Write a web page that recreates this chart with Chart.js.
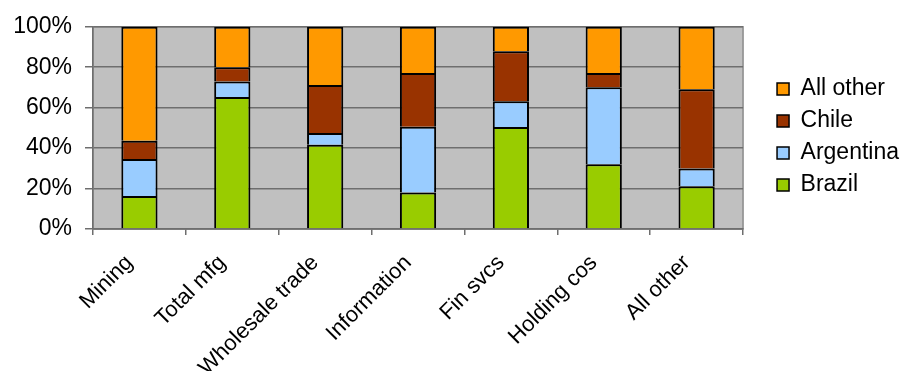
<!DOCTYPE html>
<html>
<head>
<meta charset="utf-8">
<title>Share by sector</title>
<script src="https://cdn.jsdelivr.net/npm/chart.js@4/dist/chart.umd.min.js"></script>
<style>
  html, body { margin: 0; padding: 0; background: #ffffff; }
  #wrap { width: 904px; height: 371px; position: relative; }
</style>
</head>
<body>
<div id="wrap"><canvas id="chart"></canvas></div>
<script>
// Sectors along the horizontal axis
const sectors = ['Mining', 'Total mfg', 'Wholesale trade', 'Information', 'Fin svcs', 'Holding cos', 'All other'];

// Share of each sector (percent), by country
const brazil    = [16.3, 65.3, 41.7, 18.1, 50.5, 32.0, 21.1];
const argentina = [18.3,  7.7,  5.8, 32.5, 12.7, 38.1,  8.8];
const chile     = [ 9.0,  7.0, 23.7, 26.5, 24.7,  7.0, 39.2];
const allOther  = [56.4, 20.0, 28.8, 22.9, 12.1, 22.9, 30.9];

// Value axis ticks
const percentTicks = [0, 20, 40, 60, 80, 100];

const FONT = "'Liberation Sans', Arial, sans-serif";

// Grey plot area with a thin frame, painted under the grid and bars
const plotBackground = {
  id: 'plotBackground',
  beforeDraw(chart) {
    const { ctx, chartArea: a } = chart;
    ctx.save();
    ctx.fillStyle = '#c0c0c0';
    ctx.fillRect(a.left, a.top, a.right - a.left, a.bottom - a.top);
    ctx.strokeStyle = '#8a8a8a';
    ctx.lineWidth = 1.5;
    ctx.strokeRect(a.left, a.top, a.right - a.left, a.bottom - a.top);
    ctx.restore();
  }
};

// Keeps the legend a little apart from the plot area
const legendOffset = {
  id: 'legendOffset',
  afterLayout(chart, args, opts) {
    const lg = chart.legend;
    if (!lg) return;
    lg.left += opts.dx; lg.right += opts.dx;
    lg.top += opts.dy; lg.bottom += opts.dy;
  }
};

const barStyle = {
  borderColor: '#000000',
  borderWidth: 2,
  borderSkipped: 'start',
  barPercentage: 0.39,
  categoryPercentage: 1.0
};

new Chart(document.getElementById('chart'), {
  type: 'bar',
  data: {
    labels: sectors,
    datasets: [
      Object.assign({ label: 'Brazil',    data: brazil,    backgroundColor: '#99cc00' }, barStyle),
      Object.assign({ label: 'Argentina', data: argentina, backgroundColor: '#99ccff' }, barStyle),
      Object.assign({ label: 'Chile',     data: chile,     backgroundColor: '#993300' }, barStyle),
      Object.assign({ label: 'All other', data: allOther,  backgroundColor: '#ff9900' }, barStyle)
    ]
  },
  plugins: [plotBackground, legendOffset],
  options: {
    responsive: true,
    maintainAspectRatio: false,
    animation: false,
    events: [],
    layout: { padding: { top: 25, left: 0, right: 20, bottom: 0 } },
    plugins: {
      title: { display: false },
      tooltip: { enabled: false },
      legendOffset: { dx: 25, dy: 9 },
      legend: {
        position: 'right',
        fullSize: false,
        align: 'center',
        reverse: true,
        labels: {
          color: '#000000',
          font: { family: FONT, size: 23 },
          boxWidth: 12,
          boxHeight: 12,
          padding: 9,
          generateLabels(chart) {
            const items = Chart.defaults.plugins.legend.labels.generateLabels(chart);
            items.forEach(it => { it.lineWidth = 1.5; it.strokeStyle = '#000000'; });
            return items;
          }
        }
      }
    },
    scales: {
      x: {
        stacked: true,
        grid: {
          offset: true,
          drawOnChartArea: false,
          drawTicks: true,
          tickLength: 6,
          color: '#6e6e6e',
          lineWidth: 1.5
        },
        border: { display: true, color: '#6e6e6e', width: 1.5 },
        ticks: {
          color: '#000000',
          font: { family: FONT, size: 22 },
          autoSkip: false,
          minRotation: 45,
          maxRotation: 45,
          padding: 15,
          labelOffset: -10
        },
        afterFit(scale) { scale.height = 142; }
      },
      y: {
        stacked: true,
        min: 0,
        max: 100,
        afterBuildTicks(scale) { scale.ticks = percentTicks.map(v => ({ value: v })); },
        grid: {
          drawTicks: true,
          tickLength: 8,
          color: '#6e6e6e',
          lineWidth: 1.5
        },
        border: { display: true, color: '#6e6e6e', width: 1.5 },
        ticks: {
          color: '#000000',
          font: { family: FONT, size: 23 },
          padding: 13,
          callback: v => v + '%'
        },
        afterFit(scale) { scale.width = 93; }
      }
    }
  }
});
</script>
</body>
</html>
